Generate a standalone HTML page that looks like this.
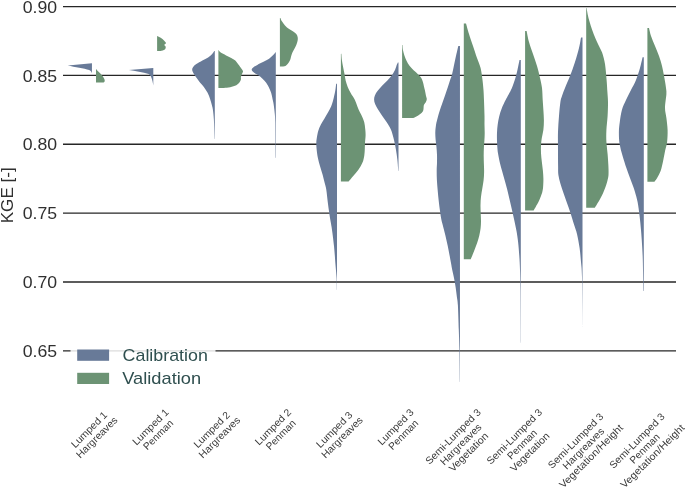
<!DOCTYPE html>
<html><head><meta charset="utf-8"><title>KGE violin plot</title>
<style>html,body{margin:0;padding:0;background:#fff}svg{display:block;will-change:transform}text{font-family:"Liberation Sans",sans-serif}</style>
</head><body>
<svg width="685" height="487" viewBox="0 0 685 487">
<rect width="685" height="487" fill="#fff"/>
<line x1="63" x2="676" y1="6.57" y2="6.57" stroke="#262626" stroke-width="1.35"/>
<line x1="63" x2="676" y1="75.42" y2="75.42" stroke="#262626" stroke-width="1.35"/>
<line x1="63" x2="676" y1="144.27" y2="144.27" stroke="#262626" stroke-width="1.35"/>
<line x1="63" x2="676" y1="213.12" y2="213.12" stroke="#262626" stroke-width="1.35"/>
<line x1="63" x2="676" y1="281.97" y2="281.97" stroke="#262626" stroke-width="1.35"/>
<line x1="63" x2="676" y1="350.82" y2="350.82" stroke="#262626" stroke-width="1.35"/>
<g>
<path d="M91.95,63.3 L67.7,65.5 C75,67 84,68.6 89.2,69.9 C91,70.8 91.7,72 91.95,73.2 Z" fill="#687a98"/>
<path d="M96.00,69.00 L96.00,69.00 C96.47,69.52 97.90,71.15 98.80,72.10 C99.70,73.05 100.67,73.90 101.40,74.70 C102.13,75.50 102.68,76.10 103.20,76.90 C103.72,77.70 104.25,78.77 104.50,79.50 C104.75,80.23 104.78,80.83 104.70,81.30 C104.62,81.77 104.25,82.08 104.00,82.30 C103.75,82.52 103.33,82.55 103.20,82.60 L96.00,82.60 Z" fill="#6c9374"/>
<path d="M153.3,68 L128.9,70 C135,71.1 143,72.3 148.7,74 C151,75.5 152.5,79 153.3,85.5 Z" fill="#687a98"/>
<path d="M157.10,36.00 L157.10,36.00 C157.70,36.28 159.55,36.97 160.70,37.70 C161.85,38.43 163.12,39.50 164.00,40.40 C164.88,41.30 165.93,42.35 166.00,43.10 C166.07,43.85 164.45,44.30 164.40,44.90 C164.35,45.50 165.55,46.03 165.70,46.70 C165.85,47.37 165.70,48.30 165.30,48.90 C164.90,49.50 164.07,49.97 163.30,50.30 C162.53,50.63 161.13,50.80 160.70,50.90 L157.10,50.90 Z" fill="#6c9374"/>
<path d="M214.80,51.00 L214.30,51.00 C213.95,51.48 213.23,52.83 212.20,53.90 C211.17,54.97 209.73,56.30 208.10,57.40 C206.47,58.50 204.37,59.38 202.40,60.50 C200.43,61.62 197.87,62.98 196.30,64.10 C194.73,65.22 193.68,66.25 193.00,67.20 C192.32,68.15 192.17,68.87 192.20,69.80 C192.23,70.73 192.52,71.52 193.20,72.80 C193.88,74.08 195.10,75.78 196.30,77.50 C197.50,79.22 199.12,81.48 200.40,83.10 C201.68,84.72 202.80,85.58 204.00,87.20 C205.20,88.82 206.58,90.83 207.60,92.80 C208.62,94.77 209.38,96.93 210.10,99.00 C210.82,101.07 211.43,103.40 211.90,105.20 C212.37,107.00 212.57,107.33 212.90,109.80 C213.23,112.27 213.62,115.13 213.90,120.00 C214.18,124.87 214.48,135.83 214.60,139.00 L214.80,139.00 Z" fill="#687a98"/>
<path d="M218.40,50.00 L218.60,50.00 C218.90,50.38 219.15,51.40 220.40,52.30 C221.65,53.20 224.30,54.45 226.10,55.40 C227.90,56.35 229.67,57.15 231.20,58.00 C232.73,58.85 234.10,59.40 235.30,60.50 C236.50,61.60 237.37,63.23 238.40,64.60 C239.43,65.97 240.73,67.58 241.50,68.70 C242.27,69.82 242.92,70.43 243.00,71.30 C243.08,72.17 242.35,72.95 242.00,73.90 C241.65,74.85 241.08,76.07 240.90,77.00 C240.72,77.93 241.15,78.57 240.90,79.50 C240.65,80.43 240.17,81.65 239.40,82.60 C238.63,83.55 237.83,84.43 236.30,85.20 C234.77,85.97 232.25,86.75 230.20,87.20 C228.15,87.65 225.03,87.78 224.00,87.90 L218.40,87.90 Z" fill="#6c9374"/>
<path d="M275.80,52.30 L275.50,52.30 C275.12,52.77 274.27,54.03 273.20,55.10 C272.13,56.17 270.72,57.58 269.10,58.70 C267.48,59.82 265.47,60.77 263.50,61.80 C261.53,62.83 259.02,63.97 257.30,64.90 C255.58,65.83 254.13,66.67 253.20,67.40 C252.27,68.13 251.78,68.60 251.70,69.30 C251.62,70.00 251.93,70.80 252.70,71.60 C253.47,72.40 255.02,73.25 256.30,74.10 C257.58,74.95 259.03,75.58 260.40,76.70 C261.77,77.82 263.30,79.43 264.50,80.80 C265.70,82.17 266.75,83.53 267.60,84.90 C268.45,86.27 269.00,87.63 269.60,89.00 C270.20,90.37 270.77,91.73 271.20,93.10 C271.63,94.47 271.95,96.08 272.20,97.20 C272.45,98.32 272.47,98.67 272.70,99.80 C272.93,100.93 273.28,101.97 273.60,104.00 C273.92,106.03 274.33,109.00 274.60,112.00 C274.87,115.00 275.03,114.33 275.20,122.00 C275.37,129.67 275.53,152.00 275.60,158.00 L275.80,158.00 Z" fill="#687a98"/>
<path d="M279.90,17.90 L280.40,17.90 C280.65,18.47 281.13,20.05 281.90,21.30 C282.67,22.55 283.80,24.12 285.00,25.40 C286.20,26.68 287.73,27.97 289.10,29.00 C290.47,30.03 292.00,30.75 293.20,31.60 C294.40,32.45 295.55,33.17 296.30,34.10 C297.05,35.03 297.48,36.08 297.70,37.20 C297.92,38.32 297.83,39.52 297.60,40.80 C297.37,42.08 296.85,43.53 296.30,44.90 C295.75,46.27 294.98,47.63 294.30,49.00 C293.62,50.37 292.75,51.82 292.20,53.10 C291.65,54.38 291.30,55.68 291.00,56.70 C290.70,57.72 290.80,58.18 290.40,59.20 C290.00,60.22 289.32,61.77 288.60,62.80 C287.88,63.83 286.95,64.80 286.10,65.40 C285.25,66.00 283.93,66.23 283.50,66.40 L279.90,66.40 Z" fill="#6c9374"/>
<path d="M337.00,83.70 L336.20,83.70 C336.03,84.92 335.70,88.28 335.20,91.00 C334.70,93.72 333.87,97.47 333.20,100.00 C332.53,102.53 332.05,104.15 331.20,106.20 C330.35,108.25 329.22,110.25 328.10,112.30 C326.98,114.35 325.70,116.45 324.50,118.50 C323.30,120.55 321.93,122.55 320.90,124.60 C319.87,126.65 318.98,128.57 318.30,130.80 C317.62,133.03 317.13,135.97 316.80,138.00 C316.47,140.03 316.33,141.17 316.30,143.00 C316.27,144.83 316.35,146.60 316.60,149.00 C316.85,151.40 317.20,154.45 317.80,157.40 C318.40,160.35 319.38,163.78 320.20,166.70 C321.02,169.62 321.95,172.17 322.70,174.90 C323.45,177.63 324.10,180.62 324.70,183.10 C325.30,185.58 325.75,186.32 326.30,189.80 C326.85,193.28 327.38,199.30 328.00,204.00 C328.62,208.70 329.40,214.17 330.00,218.00 C330.60,221.83 330.93,222.33 331.60,227.00 C332.27,231.67 333.33,239.50 334.00,246.00 C334.67,252.50 335.17,260.67 335.60,266.00 C336.03,271.33 336.38,274.00 336.60,278.00 C336.82,282.00 336.85,288.00 336.90,290.00 L337.00,290.00 Z" fill="#687a98"/>
<path d="M340.90,53.70 L341.35,53.70 C341.44,54.80 341.62,58.18 341.90,60.30 C342.17,62.42 342.58,64.18 343.00,66.40 C343.42,68.62 343.95,71.20 344.40,73.60 C344.85,76.00 345.15,78.58 345.70,80.80 C346.25,83.02 346.87,84.85 347.70,86.90 C348.53,88.95 349.52,90.95 350.70,93.10 C351.88,95.25 353.70,97.62 354.80,99.80 C355.90,101.98 356.45,104.12 357.30,106.20 C358.15,108.28 359.03,110.43 359.90,112.30 C360.77,114.17 361.77,115.68 362.50,117.40 C363.23,119.12 363.85,120.72 364.30,122.60 C364.75,124.48 364.98,126.65 365.20,128.70 C365.42,130.75 365.63,132.50 365.60,134.90 C365.57,137.30 365.13,140.75 365.00,143.10 C364.87,145.45 364.92,146.95 364.80,149.00 C364.68,151.05 364.68,153.13 364.30,155.40 C363.92,157.67 363.48,160.20 362.50,162.60 C361.52,165.00 359.95,167.58 358.40,169.80 C356.85,172.02 354.83,173.97 353.20,175.90 C351.57,177.83 349.37,180.48 348.60,181.40 L340.90,181.40 Z" fill="#6c9374"/>
<path d="M398.50,62.40 L397.90,62.40 C397.73,62.77 397.37,63.37 396.90,64.60 C396.43,65.83 395.90,68.08 395.10,69.80 C394.30,71.52 393.38,73.12 392.10,74.90 C390.82,76.68 389.03,78.72 387.40,80.50 C385.77,82.28 383.92,83.88 382.30,85.60 C380.68,87.32 378.93,89.17 377.70,90.80 C376.47,92.43 375.50,93.95 374.90,95.40 C374.30,96.85 374.07,98.05 374.10,99.50 C374.13,100.95 374.42,102.38 375.10,104.10 C375.78,105.82 377.00,107.83 378.20,109.80 C379.40,111.77 380.85,113.77 382.30,115.90 C383.75,118.03 385.45,120.28 386.90,122.60 C388.35,124.92 389.82,126.90 391.00,129.80 C392.18,132.70 393.17,136.63 394.00,140.00 C394.83,143.37 395.43,146.67 396.00,150.00 C396.57,153.33 397.02,156.50 397.40,160.00 C397.78,163.50 398.15,169.17 398.30,171.00 L398.50,171.00 Z" fill="#687a98"/>
<path d="M402.10,44.90 L402.50,44.90 C402.58,45.80 402.68,48.55 403.00,50.30 C403.32,52.05 403.83,53.70 404.40,55.40 C404.97,57.10 405.55,58.78 406.40,60.50 C407.25,62.22 408.30,64.07 409.50,65.70 C410.70,67.33 412.15,68.85 413.60,70.30 C415.05,71.75 416.92,73.12 418.20,74.40 C419.48,75.68 420.52,76.72 421.30,78.00 C422.08,79.28 422.47,80.73 422.90,82.10 C423.33,83.47 423.57,84.83 423.90,86.20 C424.23,87.57 424.57,88.77 424.90,90.30 C425.23,91.83 425.58,93.95 425.90,95.40 C426.22,96.85 426.80,97.88 426.80,99.00 C426.80,100.12 426.38,101.08 425.90,102.10 C425.42,103.12 424.32,103.82 423.90,105.10 C423.48,106.38 423.75,108.52 423.40,109.80 C423.05,111.08 422.67,111.87 421.80,112.80 C420.93,113.73 419.65,114.52 418.20,115.40 C416.75,116.28 413.95,117.65 413.10,118.10 L402.10,118.10 Z" fill="#6c9374"/>
<path d="M459.95,46.00 L458.30,46.00 C457.97,47.43 457.00,51.47 456.30,54.60 C455.60,57.73 454.83,61.40 454.10,64.80 C453.37,68.20 452.57,72.47 451.90,75.00 C451.23,77.53 450.78,77.97 450.10,80.00 C449.42,82.03 448.65,84.63 447.80,87.20 C446.95,89.77 445.93,92.67 445.00,95.40 C444.07,98.13 443.13,100.87 442.20,103.60 C441.27,106.33 440.25,109.07 439.40,111.80 C438.55,114.53 437.67,117.80 437.10,120.00 C436.53,122.20 436.30,122.97 436.00,125.00 C435.70,127.03 435.37,129.80 435.30,132.20 C435.23,134.60 435.42,137.00 435.60,139.40 C435.78,141.80 436.17,144.03 436.40,146.60 C436.63,149.17 436.90,152.07 437.00,154.80 C437.10,157.53 437.05,160.43 437.00,163.00 C436.95,165.57 436.72,167.32 436.70,170.20 C436.68,173.08 436.73,176.92 436.90,180.30 C437.07,183.68 437.40,187.08 437.70,190.50 C438.00,193.92 438.32,197.38 438.70,200.80 C439.08,204.22 439.55,207.83 440.00,211.00 C440.45,214.17 440.93,217.42 441.40,219.80 C441.87,222.18 442.13,222.68 442.80,225.30 C443.47,227.92 444.58,232.08 445.40,235.50 C446.22,238.92 446.98,242.37 447.70,245.80 C448.42,249.23 449.10,252.93 449.70,256.10 C450.30,259.27 450.90,262.62 451.30,264.80 C451.70,266.98 451.63,266.92 452.10,269.20 C452.57,271.48 453.50,275.42 454.10,278.50 C454.70,281.58 455.23,284.63 455.70,287.70 C456.17,290.77 456.53,293.98 456.90,296.90 C457.27,299.82 457.58,299.68 457.90,305.20 C458.22,310.72 458.55,322.70 458.80,330.00 C459.05,337.30 459.23,340.33 459.40,349.00 C459.57,357.67 459.73,376.50 459.80,382.00 L459.95,382.00 Z" fill="#687a98"/>
<path d="M463.80,23.60 L466.00,23.60 C466.50,25.33 467.83,30.27 469.00,34.00 C470.17,37.73 471.67,42.00 473.00,46.00 C474.33,50.00 475.73,54.33 477.00,58.00 C478.27,61.67 479.68,64.33 480.60,68.00 C481.52,71.67 482.02,76.28 482.50,80.00 C482.98,83.72 483.25,86.88 483.50,90.30 C483.75,93.72 483.83,96.22 484.00,100.50 C484.17,104.78 484.42,111.92 484.50,116.00 C484.58,120.08 484.47,122.13 484.50,125.00 C484.53,127.87 484.72,130.63 484.70,133.20 C484.68,135.77 484.53,138.00 484.40,140.40 C484.27,142.80 484.02,145.03 483.90,147.60 C483.78,150.17 483.70,153.07 483.70,155.80 C483.70,158.53 483.83,161.30 483.90,164.00 C483.97,166.70 484.15,169.28 484.10,172.00 C484.05,174.72 483.90,177.55 483.60,180.30 C483.30,183.05 482.73,185.77 482.30,188.50 C481.87,191.23 481.30,193.97 481.00,196.70 C480.70,199.43 480.55,202.17 480.50,204.90 C480.45,207.63 480.62,210.38 480.70,213.10 C480.78,215.82 481.02,218.67 481.00,221.20 C480.98,223.73 480.88,225.92 480.60,228.30 C480.32,230.68 479.87,233.10 479.30,235.50 C478.73,237.90 478.07,240.13 477.20,242.70 C476.33,245.27 475.13,248.25 474.10,250.90 C473.07,253.55 471.58,257.20 471.00,258.60 C470.42,260.00 470.67,259.18 470.60,259.30 L463.80,259.30 Z" fill="#6c9374"/>
<path d="M520.80,60.10 L519.50,60.10 C519.18,61.62 518.28,66.22 517.60,69.20 C516.92,72.18 516.37,74.83 515.40,78.00 C514.43,81.17 512.93,85.45 511.80,88.20 C510.67,90.95 509.63,92.53 508.60,94.50 C507.57,96.47 506.73,97.72 505.60,100.00 C504.47,102.28 502.87,105.47 501.80,108.20 C500.73,110.93 499.88,113.67 499.20,116.40 C498.52,119.13 498.07,121.87 497.70,124.60 C497.33,127.33 497.12,130.05 497.00,132.80 C496.88,135.55 496.93,138.57 497.00,141.10 C497.07,143.63 497.23,145.98 497.40,148.00 C497.57,150.02 497.60,150.80 498.00,153.20 C498.40,155.60 499.08,159.32 499.80,162.40 C500.52,165.48 501.45,168.62 502.30,171.70 C503.15,174.78 504.08,177.93 504.90,180.90 C505.72,183.87 506.43,186.45 507.20,189.50 C507.97,192.55 508.68,195.70 509.50,199.20 C510.32,202.70 511.25,206.73 512.10,210.50 C512.95,214.27 513.87,218.37 514.60,221.80 C515.33,225.23 515.92,227.73 516.50,231.10 C517.08,234.47 517.63,237.85 518.10,242.00 C518.57,246.15 518.98,251.33 519.30,256.00 C519.62,260.67 519.82,264.33 520.00,270.00 C520.18,275.67 520.28,277.83 520.40,290.00 C520.52,302.17 520.65,334.17 520.70,343.00 L520.80,343.00 Z" fill="#687a98"/>
<path d="M525.10,31.00 L526.60,31.00 C527.00,32.83 527.93,38.17 529.00,42.00 C530.07,45.83 531.67,50.00 533.00,54.00 C534.33,58.00 535.83,62.00 537.00,66.00 C538.17,70.00 539.17,74.33 540.00,78.00 C540.83,81.67 541.55,84.33 542.00,88.00 C542.45,91.67 542.47,96.28 542.70,100.00 C542.93,103.72 543.20,106.88 543.40,110.30 C543.60,113.72 543.90,117.25 543.90,120.50 C543.90,123.75 543.75,126.88 543.40,129.80 C543.05,132.72 542.20,135.47 541.80,138.00 C541.40,140.53 541.13,142.47 541.00,145.00 C540.87,147.53 540.87,150.47 541.00,153.20 C541.13,155.93 541.48,158.48 541.80,161.40 C542.12,164.32 542.63,167.78 542.90,170.70 C543.17,173.62 543.37,176.17 543.40,178.90 C543.43,181.63 543.27,185.00 543.10,187.10 C542.93,189.20 542.70,190.17 542.40,191.50 C542.10,192.83 541.90,193.47 541.30,195.10 C540.70,196.73 539.73,199.33 538.80,201.30 C537.87,203.27 536.57,205.38 535.70,206.90 C534.83,208.42 533.95,209.82 533.60,210.40 L525.10,210.40 Z" fill="#6c9374"/>
<path d="M582.50,37.40 L581.00,37.40 C580.67,39.17 580.00,43.90 579.00,48.00 C578.00,52.10 576.50,57.33 575.00,62.00 C573.50,66.67 571.67,71.67 570.00,76.00 C568.33,80.33 566.33,84.67 565.00,88.00 C563.67,91.33 562.77,93.67 562.00,96.00 C561.23,98.33 560.90,98.67 560.40,102.00 C559.90,105.33 559.40,111.00 559.00,116.00 C558.60,121.00 558.17,126.33 558.00,132.00 C557.83,137.67 557.98,144.33 558.00,150.00 C558.02,155.67 558.03,161.83 558.10,166.00 C558.17,170.17 558.03,172.13 558.40,175.00 C558.77,177.87 559.48,180.30 560.30,183.20 C561.12,186.10 562.20,189.15 563.30,192.40 C564.40,195.65 565.70,199.27 566.90,202.70 C568.10,206.13 569.30,209.32 570.50,213.00 C571.70,216.68 573.02,221.30 574.10,224.80 C575.18,228.30 576.08,230.13 577.00,234.00 C577.92,237.87 578.93,243.33 579.60,248.00 C580.27,252.67 580.60,257.17 581.00,262.00 C581.40,266.83 581.73,266.17 582.00,277.00 C582.27,287.83 582.50,318.67 582.60,327.00 L582.50,327.00 Z" fill="#687a98"/>
<path d="M586.20,8.00 L586.60,8.00 C586.78,9.07 587.22,12.13 587.70,14.40 C588.18,16.67 588.77,19.03 589.50,21.60 C590.23,24.17 591.07,26.90 592.10,29.80 C593.13,32.70 594.25,35.67 595.70,39.00 C597.15,42.33 599.65,47.30 600.80,49.80 C601.95,52.30 601.90,51.63 602.60,54.00 C603.30,56.37 604.33,59.67 605.00,64.00 C605.67,68.33 606.20,75.33 606.60,80.00 C607.00,84.67 607.17,88.33 607.40,92.00 C607.63,95.67 607.97,98.00 608.00,102.00 C608.03,106.00 607.87,111.33 607.60,116.00 C607.33,120.67 606.60,125.67 606.40,130.00 C606.20,134.33 606.20,138.00 606.40,142.00 C606.60,146.00 607.27,150.00 607.60,154.00 C607.93,158.00 608.25,162.50 608.40,166.00 C608.55,169.50 608.68,172.47 608.50,175.00 C608.32,177.53 607.82,179.15 607.30,181.20 C606.78,183.25 606.13,185.25 605.40,187.30 C604.67,189.35 603.83,191.45 602.90,193.50 C601.97,195.55 600.83,197.72 599.80,199.60 C598.77,201.48 597.53,203.45 596.70,204.80 C595.87,206.15 595.12,207.22 594.80,207.70 L586.20,207.70 Z" fill="#6c9374"/>
<path d="M643.80,57.30 L642.60,57.30 C642.17,59.08 641.10,64.22 640.00,68.00 C638.90,71.78 637.50,76.33 636.00,80.00 C634.50,83.67 632.67,86.67 631.00,90.00 C629.33,93.33 627.52,96.67 626.00,100.00 C624.48,103.33 622.93,106.33 621.90,110.00 C620.87,113.67 620.30,118.33 619.80,122.00 C619.30,125.67 618.93,128.33 618.90,132.00 C618.87,135.67 618.98,140.00 619.60,144.00 C620.22,148.00 621.47,152.00 622.60,156.00 C623.73,160.00 625.17,164.33 626.40,168.00 C627.63,171.67 628.90,175.00 630.00,178.00 C631.10,181.00 632.17,183.67 633.00,186.00 C633.83,188.33 634.23,189.33 635.00,192.00 C635.77,194.67 636.83,198.00 637.60,202.00 C638.37,206.00 639.03,211.33 639.60,216.00 C640.17,220.67 640.60,225.33 641.00,230.00 C641.40,234.67 641.70,239.00 642.00,244.00 C642.30,249.00 642.57,252.17 642.80,260.00 C643.03,267.83 643.30,285.83 643.40,291.00 L643.80,291.00 Z" fill="#687a98"/>
<path d="M647.40,28.00 L649.00,28.00 C649.33,29.33 650.00,33.00 651.00,36.00 C652.00,39.00 653.67,42.67 655.00,46.00 C656.33,49.33 657.83,52.67 659.00,56.00 C660.17,59.33 661.10,62.33 662.00,66.00 C662.90,69.67 663.73,74.33 664.40,78.00 C665.07,81.67 665.67,85.33 666.00,88.00 C666.33,90.67 666.57,90.67 666.40,94.00 C666.23,97.33 665.00,104.00 665.00,108.00 C665.00,112.00 665.97,114.33 666.40,118.00 C666.83,121.67 667.48,126.00 667.60,130.00 C667.72,134.00 667.50,138.62 667.10,142.00 C666.70,145.38 665.85,147.22 665.20,150.30 C664.55,153.38 663.95,157.08 663.20,160.50 C662.45,163.92 661.72,167.88 660.70,170.80 C659.68,173.72 658.13,176.18 657.10,178.00 C656.07,179.82 654.93,181.08 654.50,181.70 L647.40,181.70 Z" fill="#6c9374"/>
</g>
<text x="22.7" y="12.77" font-size="15.9" fill="#303030" textLength="34.4" lengthAdjust="spacingAndGlyphs">0.90</text>
<text x="22.7" y="81.62" font-size="15.9" fill="#303030" textLength="34.4" lengthAdjust="spacingAndGlyphs">0.85</text>
<text x="22.7" y="150.47" font-size="15.9" fill="#303030" textLength="34.4" lengthAdjust="spacingAndGlyphs">0.80</text>
<text x="22.7" y="219.32" font-size="15.9" fill="#303030" textLength="34.4" lengthAdjust="spacingAndGlyphs">0.75</text>
<text x="22.7" y="288.17" font-size="15.9" fill="#303030" textLength="34.4" lengthAdjust="spacingAndGlyphs">0.70</text>
<text x="22.7" y="357.02" font-size="15.9" fill="#303030" textLength="34.4" lengthAdjust="spacingAndGlyphs">0.65</text>
<text transform="translate(13.4,195.3) rotate(-90)" text-anchor="middle" font-size="16" fill="#303030" textLength="56" lengthAdjust="spacingAndGlyphs">KGE [-]</text>
<rect x="70.5" y="342" width="145" height="50" fill="#fff" fill-opacity="0.84"/>
<rect x="77.2" y="349.5" width="31.9" height="11.3" fill="#687a98"/>
<rect x="77.2" y="372.8" width="31.9" height="11.2" fill="#6c9374"/>
<text x="122.6" y="361" font-size="16.2" fill="#2f4f4f" textLength="85.3" lengthAdjust="spacingAndGlyphs">Calibration</text>
<text x="122.3" y="383.8" font-size="16.2" fill="#2f4f4f" textLength="78.8" lengthAdjust="spacingAndGlyphs">Validation</text>
<g transform="translate(93.65,434.11) rotate(-45)" font-size="10.07" fill="#3a3a3a" text-anchor="middle"><text x="0" y="-2.96" textLength="46.40" lengthAdjust="spacingAndGlyphs">Lumped 1</text><text x="0" y="7.94" textLength="53.75" lengthAdjust="spacingAndGlyphs">Hargreaves</text></g>
<g transform="translate(154.95,431.51) rotate(-45)" font-size="10.07" fill="#3a3a3a" text-anchor="middle"><text x="0" y="-2.96" textLength="46.40" lengthAdjust="spacingAndGlyphs">Lumped 1</text><text x="0" y="7.94" textLength="37.55" lengthAdjust="spacingAndGlyphs">Penman</text></g>
<g transform="translate(216.25,434.11) rotate(-45)" font-size="10.07" fill="#3a3a3a" text-anchor="middle"><text x="0" y="-2.96" textLength="46.40" lengthAdjust="spacingAndGlyphs">Lumped 2</text><text x="0" y="7.94" textLength="53.75" lengthAdjust="spacingAndGlyphs">Hargreaves</text></g>
<g transform="translate(277.55,431.51) rotate(-45)" font-size="10.07" fill="#3a3a3a" text-anchor="middle"><text x="0" y="-2.96" textLength="46.40" lengthAdjust="spacingAndGlyphs">Lumped 2</text><text x="0" y="7.94" textLength="37.55" lengthAdjust="spacingAndGlyphs">Penman</text></g>
<g transform="translate(338.85,434.11) rotate(-45)" font-size="10.07" fill="#3a3a3a" text-anchor="middle"><text x="0" y="-2.96" textLength="46.40" lengthAdjust="spacingAndGlyphs">Lumped 3</text><text x="0" y="7.94" textLength="53.75" lengthAdjust="spacingAndGlyphs">Hargreaves</text></g>
<g transform="translate(400.15,431.51) rotate(-45)" font-size="10.07" fill="#3a3a3a" text-anchor="middle"><text x="0" y="-2.96" textLength="46.40" lengthAdjust="spacingAndGlyphs">Lumped 3</text><text x="0" y="7.94" textLength="37.55" lengthAdjust="spacingAndGlyphs">Penman</text></g>
<g transform="translate(461.45,444.98) rotate(-45)" font-size="10.07" fill="#3a3a3a" text-anchor="middle"><text x="0" y="-8.42" textLength="73.60" lengthAdjust="spacingAndGlyphs">Semi-Lumped 3</text><text x="0" y="2.49" textLength="53.75" lengthAdjust="spacingAndGlyphs">Hargreaves</text><text x="0" y="13.39" textLength="50.82" lengthAdjust="spacingAndGlyphs">Vegetation</text></g>
<g transform="translate(522.75,444.98) rotate(-45)" font-size="10.07" fill="#3a3a3a" text-anchor="middle"><text x="0" y="-8.42" textLength="73.60" lengthAdjust="spacingAndGlyphs">Semi-Lumped 3</text><text x="0" y="2.49" textLength="37.55" lengthAdjust="spacingAndGlyphs">Penman</text><text x="0" y="13.39" textLength="50.82" lengthAdjust="spacingAndGlyphs">Vegetation</text></g>
<g transform="translate(584.05,449.16) rotate(-45)" font-size="10.07" fill="#3a3a3a" text-anchor="middle"><text x="0" y="-8.42" textLength="73.60" lengthAdjust="spacingAndGlyphs">Semi-Lumped 3</text><text x="0" y="2.49" textLength="53.75" lengthAdjust="spacingAndGlyphs">Hargreaves</text><text x="0" y="13.39" textLength="85.43" lengthAdjust="spacingAndGlyphs">Vegetation/Height</text></g>
<g transform="translate(645.35,449.16) rotate(-45)" font-size="10.07" fill="#3a3a3a" text-anchor="middle"><text x="0" y="-8.42" textLength="73.60" lengthAdjust="spacingAndGlyphs">Semi-Lumped 3</text><text x="0" y="2.49" textLength="37.55" lengthAdjust="spacingAndGlyphs">Penman</text><text x="0" y="13.39" textLength="85.43" lengthAdjust="spacingAndGlyphs">Vegetation/Height</text></g>
</svg>
</body></html>
